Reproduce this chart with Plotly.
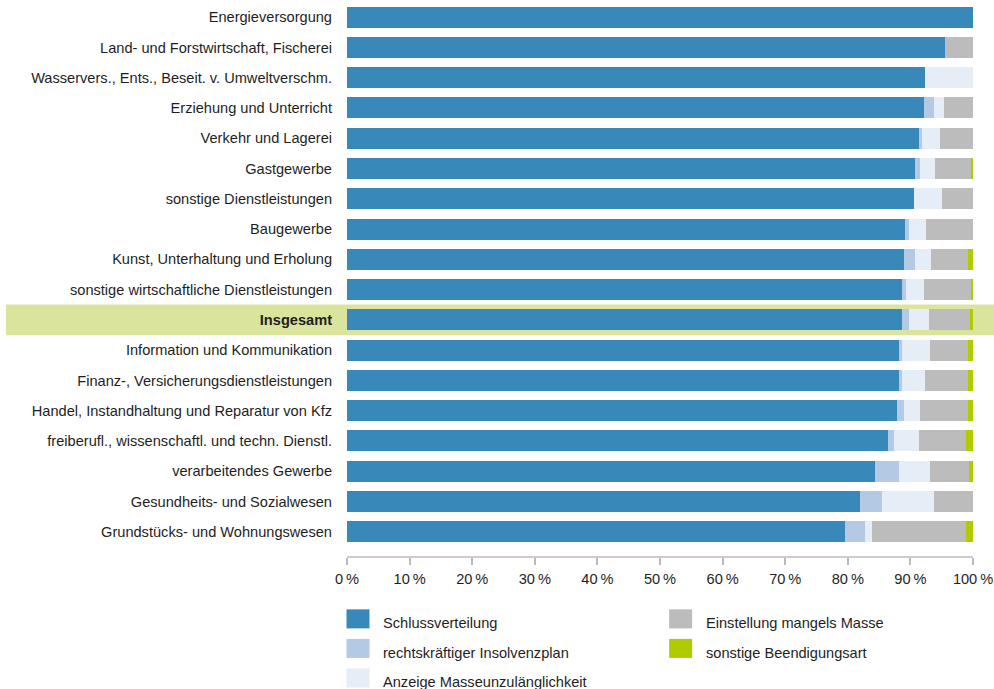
import plotly.graph_objects as go

categories = [
    "Energieversorgung",
    "Land- und Forstwirtschaft, Fischerei",
    "Wasservers., Ents., Beseit. v. Umweltverschm.",
    "Erziehung und Unterricht",
    "Verkehr und Lagerei",
    "Gastgewerbe",
    "sonstige Dienstleistungen",
    "Baugewerbe",
    "Kunst, Unterhaltung und Erholung",
    "sonstige wirtschaftliche Dienstleistungen",
    "Insgesamt",
    "Information und Kommunikation",
    "Finanz-, Versicherungsdienstleistungen",
    "Handel, Instandhaltung und Reparatur von Kfz",
    "freiberufl., wissenschaftl. und techn. Dienstl.",
    "verarbeitendes Gewerbe",
    "Gesundheits- und Sozialwesen",
    "Grundstücks- und Wohnungswesen",
]

schlussverteilung = [100.0, 95.6, 92.4, 92.2, 91.4, 90.8, 90.5, 89.2, 88.9, 88.7, 88.7, 88.2, 88.2, 87.9, 86.5, 84.3, 81.9, 79.5]
insolvenzplan     = [0.0, 0.0, 0.0, 1.5, 0.5, 0.8, 0.0, 0.5, 1.9, 0.6, 1.0, 0.5, 0.5, 1.0, 0.8, 3.8, 3.6, 3.3]
masseunzulaenglich = [0.0, 0.0, 7.6, 1.7, 2.9, 2.4, 4.6, 2.8, 2.5, 2.9, 3.2, 4.5, 3.7, 2.7, 4.0, 5.0, 8.2, 1.1]
mangels_masse     = [0.0, 4.4, 0.0, 4.6, 5.2, 5.7, 4.9, 7.5, 5.9, 7.5, 6.6, 6.0, 6.8, 7.6, 7.6, 6.3, 6.3, 15.0]
sonstige          = [0.0, 0.0, 0.0, 0.0, 0.0, 0.3, 0.0, 0.0, 0.8, 0.3, 0.5, 0.8, 0.8, 0.8, 1.1, 0.6, 0.0, 1.1]

series_names = [
    "Schlussverteilung",
    "rechtskräftiger Insolvenzplan",
    "Anzeige Masseunzulänglichkeit",
    "Einstellung mangels Masse",
    "sonstige Beendigungsart",
]
series_values = [schlussverteilung, insolvenzplan, masseunzulaenglich, mangels_masse, sonstige]
colors = ["#3889ba", "#b4c9e3", "#e5edf6", "#bcbcbc", "#b0cb00"]

x_ticks = list(range(0, 101, 10))
x_tick_labels = [f"{v}\u2009%" for v in x_ticks]

highlight = "Insgesamt"

FONT = "Liberation Sans, Arial, sans-serif"
FS = 14.6
TXT = "#1e1e1e"

W, H = 994, 689
ML = 346.5
MR = W - 973.2
MT = 2.4
MB = H - 555.7

fig = go.Figure()
for name, vals, col in zip(series_names, series_values, colors):
    fig.add_trace(go.Bar(
        y=categories, x=vals, name=name, orientation="h",
        marker=dict(color=col, line=dict(width=0)),
        width=0.694, showlegend=False,
        hovertemplate="%{y}<br>" + name + ": %{x:.1f} %<extra></extra>",
    ))

ticktext = [f"<b>{c}</b>" if c == highlight else c for c in categories]

pw = W - ML - MR
ph = H - MT - MB
n = len(categories)
row_px = (531.5 - 17.5) / (n - 1)
top_idx = -(17.5 - MT) / row_px
bottom_idx = (H - MB - 17.5) / row_px


def px2x(px):
    return (px - ML) / pw


def px2y(py):
    return (H - MB - py) / ph


shapes = []
annotations = []
hi = categories.index(highlight)
shapes.append(dict(type="rect", xref="paper", yref="y", x0=px2x(5), x1=px2x(W + 5),
                   y0=hi - 0.51, y1=hi + 0.51, fillcolor="#dbe49c", line=dict(width=0),
                   layer="below"))

# legend (two columns, column-wise order)
col_x = [346, 669]
row_top = [609, 638.5, 668]
for i, (name, col) in enumerate(zip(series_names, colors)):
    c = 0 if i < 3 else 1
    r = i if i < 3 else i - 3
    x0 = col_x[c]
    y0 = row_top[r]
    shapes.append(dict(type="rect", xref="paper", yref="paper",
                       x0=px2x(x0), x1=px2x(x0 + 23), y0=px2y(y0 + 19), y1=px2y(y0),
                       fillcolor=col, line=dict(width=0)))
    annotations.append(dict(xref="paper", yref="paper", x=px2x(x0 + 35), y=px2y(y0 + 14),
                            text=name, showarrow=False, xanchor="left", yanchor="middle",
                            font=dict(family=FONT, size=FS, color=TXT)))

fig.update_layout(
    width=W, height=H,
    barmode="stack",
    margin=dict(l=ML, r=MR, t=MT, b=MB, pad=0, autoexpand=False),
    paper_bgcolor="white", plot_bgcolor="white",
    font=dict(family=FONT, size=FS, color=TXT),
    showlegend=False,
    shapes=shapes,
    annotations=annotations,
)
fig.update_xaxes(
    range=[0, 100], tickvals=x_ticks, ticktext=x_tick_labels,
    showgrid=False, zeroline=False, showline=True, linecolor="#cccccc", linewidth=2,
    ticks="outside", ticklen=7, tickcolor="#bbbbbb", tickwidth=2,
    ticklabelstandoff=1, ticklabeloverflow="allow", automargin=False,
    tickfont=dict(family=FONT, size=FS, color=TXT), fixedrange=True,
)
fig.update_yaxes(
    type="category", categoryorder="array", categoryarray=categories,
    tickvals=categories, ticktext=ticktext,
    range=[bottom_idx, top_idx], automargin=False,
    showgrid=False, zeroline=False, showline=False, ticks="",
    ticklabelstandoff=14, tickfont=dict(family=FONT, size=FS, color=TXT), fixedrange=True,
)

fig.write_html(
    "out.html",
    config={"displayModeBar": False},
    post_script="document.body.style.margin='0';document.body.style.overflow='hidden';",
)
